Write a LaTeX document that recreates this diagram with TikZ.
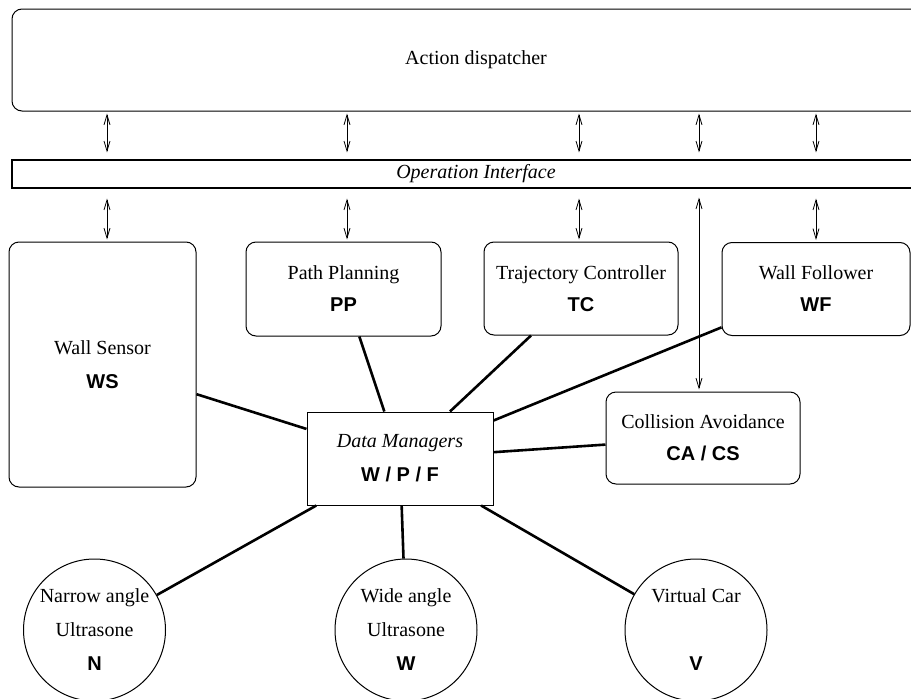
\documentclass[tikz,border=0pt]{standalone}
\usepackage{fontspec}
\setmainfont{Liberation Serif}
\setsansfont{Liberation Sans}
\usetikzlibrary{arrows.meta}

\newcommand{\modcode}[1]{\textsf{\bfseries #1}}

\begin{document}
\begin{tikzpicture}[x=1pt,y=-1pt,
    every node/.style={font=\fontsize{20}{24}\selectfont, align=center, inner sep=0pt},
    module/.style={draw, line width=1pt, rounded corners=10pt},
    sensor/.style={draw, line width=1pt, circle, minimum size=142pt},
    link/.style={line width=0.8pt, {Straight Barb[length=10pt,width=6pt]}-{Straight Barb[length=10pt,width=6pt]}},
    wire/.style={line width=2.6pt}]

\useasboundingbox (0,0) rectangle (911,699);
\clip (0,0) rectangle (911,699);

\node [module, minimum width=928pt, minimum height=102pt] (disp) at (476,60) {Action dispatcher};
\node [draw, line width=1.2pt, minimum width=928pt, minimum height=28pt] (iface) at (476,174) {\itshape Operation Interface};

\node [module, minimum width=187pt, minimum height=245pt] (ws) at (102.5,364.5) {Wall Sensor\\[10pt]\modcode{WS}};
\node [module, minimum width=195pt, minimum height=94pt] (pp) at (343.5,289) {Path Planning\\[8pt]\modcode{PP}};
\node [module, minimum width=194pt, minimum height=93pt] (tc) at (581,288.5) {Trajectory Controller\\[8pt]\modcode{TC}};
\node [module, minimum width=188pt, minimum height=93pt] (wf) at (816,289) {Wall Follower\\[8pt]\modcode{WF}};
\node [module, minimum width=194pt, minimum height=92pt] (ca) at (703,438) {Collision Avoidance\\[8pt]\modcode{CA / CS}};

\node [draw, line width=1pt, minimum width=186pt, minimum height=93pt] (dm) at (400,458.5) {\itshape Data Managers\\[10pt]\modcode{W / P / F}};

\node [sensor] (narrow) at (94.5,630) {Narrow angle\\[10pt]Ultrasone\\[10pt]\modcode{N}};
\node [sensor] (wide) at (406,630) {Wide angle\\[10pt]Ultrasone\\[10pt]\modcode{W}};
\node [sensor] (car) at (696,630) {Virtual Car\\[10pt]\mbox{}\\[10pt]\modcode{V}};

\foreach \m/\dx in {ws/4.5, pp/3.5, tc/-2, ca/-4, wf/0}
    \coordinate (col\m) at ([xshift=\dx pt]\m.north);

\foreach \m in {ws,pp,tc,ca,wf}
    \draw [link, shorten <=2pt, shorten >=7pt] (disp.south -| col\m) -- (iface.north -| col\m);

\foreach \m in {ws,pp,tc,wf}
    \draw [link, shorten <=10pt, shorten >=2pt] (iface.south -| col\m) -- (col\m);
\draw [link, shorten <=9pt, shorten >=2pt] (iface.south -| colca) -- (colca);

\foreach \m in {ws,pp,tc,wf,ca,narrow,wide,car}
    \draw [wire] (dm) -- (\m);

\end{tikzpicture}
\end{document}
